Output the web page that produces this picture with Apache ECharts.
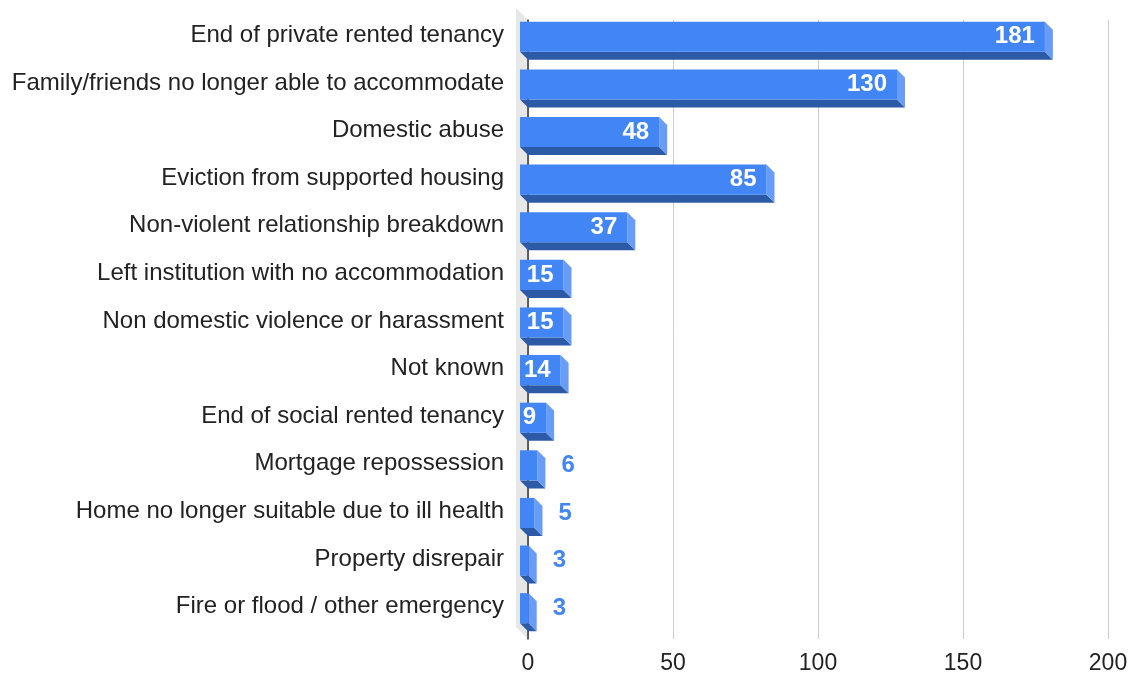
<!DOCTYPE html>
<html>
<head>
<meta charset="utf-8">
<script src="https://cdn.jsdelivr.net/npm/echarts@6/dist/echarts.min.js"></script>
<style>
  html, body { margin: 0; padding: 0; background: #fff; }
  #chart { width: 1138px; height: 675px; }
</style>
</head>
<body>
<div id="chart"></div>
<script>
// Reasons for homelessness, number of cases
const categories = [
  'End of private rented tenancy',
  'Family/friends no longer able to accommodate',
  'Domestic abuse',
  'Eviction from supported housing',
  'Non-violent relationship breakdown',
  'Left institution with no accommodation',
  'Non domestic violence or harassment',
  'Not known',
  'End of social rented tenancy',
  'Mortgage repossession',
  'Home no longer suitable due to ill health',
  'Property disrepair',
  'Fire or flood / other emergency'
];
const values = [181, 130, 48, 85, 37, 15, 15, 14, 9, 6, 5, 3, 3];
const xTicks = { min: 0, max: 200, interval: 50 };

const FONT = '"Liberation Sans", Arial, sans-serif';
const DEPTH = 8;          // extrusion of each bar toward the viewer
const WALL_DEPTH = 12;    // extrusion of the side wall behind the zero line
const COLORS = { front: '#4285f4', side: '#679cf7', bottom: '#2d5aa6', wall: '#e7e7e7' };

function renderBar(params, api) {
  const val = api.value(0);
  const cat = api.value(1);
  const p0 = api.coord([0, cat]);
  const p1 = api.coord([val, cat]);
  const band = api.size([0, 1])[1];
  const half = band * 0.316;

  const xb0 = p0[0], xb1 = p1[0];
  const ybt = p0[1] - half + 1, ybb = p0[1] + half + 1;
  const xf0 = xb0 - DEPTH, xf1 = xb1 - DEPTH;
  const yft = ybt - DEPTH, yfb = ybb - DEPTH;

  const text = String(val);
  const textW = text.length * 0.556 * 24;
  const inside = (xf1 - xf0) >= textW + 10;
  const labelY = (yft + yfb) / 2;

  return {
    type: 'group',
    children: [
      { type: 'polygon', shape: { points: [[xf0, yfb], [xf1, yfb], [xb1, ybb], [xb0, ybb]] },
        style: { fill: COLORS.bottom } },
      { type: 'polygon', shape: { points: [[xf1, yft], [xb1, ybt], [xb1, ybb], [xf1, yfb]] },
        style: { fill: COLORS.side } },
      { type: 'rect', shape: { x: xf0, y: yft, width: xf1 - xf0, height: yfb - yft },
        style: { fill: COLORS.front } },
      { type: 'text', x: inside ? xf1 - 10 : xb1 + 16, y: labelY,
        style: { text: text, fill: inside ? '#ffffff' : COLORS.front,
                 font: 'bold 24px ' + FONT, align: inside ? 'right' : 'left',
                 verticalAlign: 'middle' } }
    ]
  };
}

function renderWall(params, api) {
  const cs = params.coordSys;
  const x = cs.x, y = cs.y, h = cs.height;
  return {
    type: 'polygon',
    shape: { points: [[x - WALL_DEPTH, y - WALL_DEPTH], [x, y], [x, y + h], [x - WALL_DEPTH, y + h - WALL_DEPTH]] },
    style: { fill: COLORS.wall }
  };
}

const chart = echarts.init(document.getElementById('chart'), null, { renderer: 'canvas' });
chart.setOption({
  animation: false,
  backgroundColor: '#ffffff',
  grid: { left: 528, right: 30, top: 20, bottom: 35, containLabel: false },
  xAxis: {
    type: 'value',
    min: xTicks.min, max: xTicks.max, interval: xTicks.interval,
    axisLine: { show: false },
    axisTick: { show: false },
    splitLine: { show: true, lineStyle: { color: '#cccccc', width: 1 } },
    axisLabel: { color: '#222222', fontFamily: FONT, fontSize: 23, margin: 13 }
  },
  yAxis: {
    type: 'category',
    data: categories,
    inverse: true,
    axisLine: { show: true, lineStyle: { color: '#333333', width: 1.5 } },
    axisTick: { show: false },
    splitLine: { show: false },
    axisLabel: { color: '#222222', fontFamily: FONT, fontSize: 24, margin: 24,
                 verticalAlign: 'bottom', lineHeight: 17 }
  },
  series: [
    {
      type: 'custom',
      z: -1,
      renderItem: renderWall,
      data: [[0, 0]],
      encode: { x: 0, y: 1 },
      silent: true
    },
    {
      type: 'custom',
      renderItem: renderBar,
      data: values.map((v, i) => [v, i]),
      encode: { x: 0, y: 1 }
    }
  ]
});
</script>
</body>
</html>
